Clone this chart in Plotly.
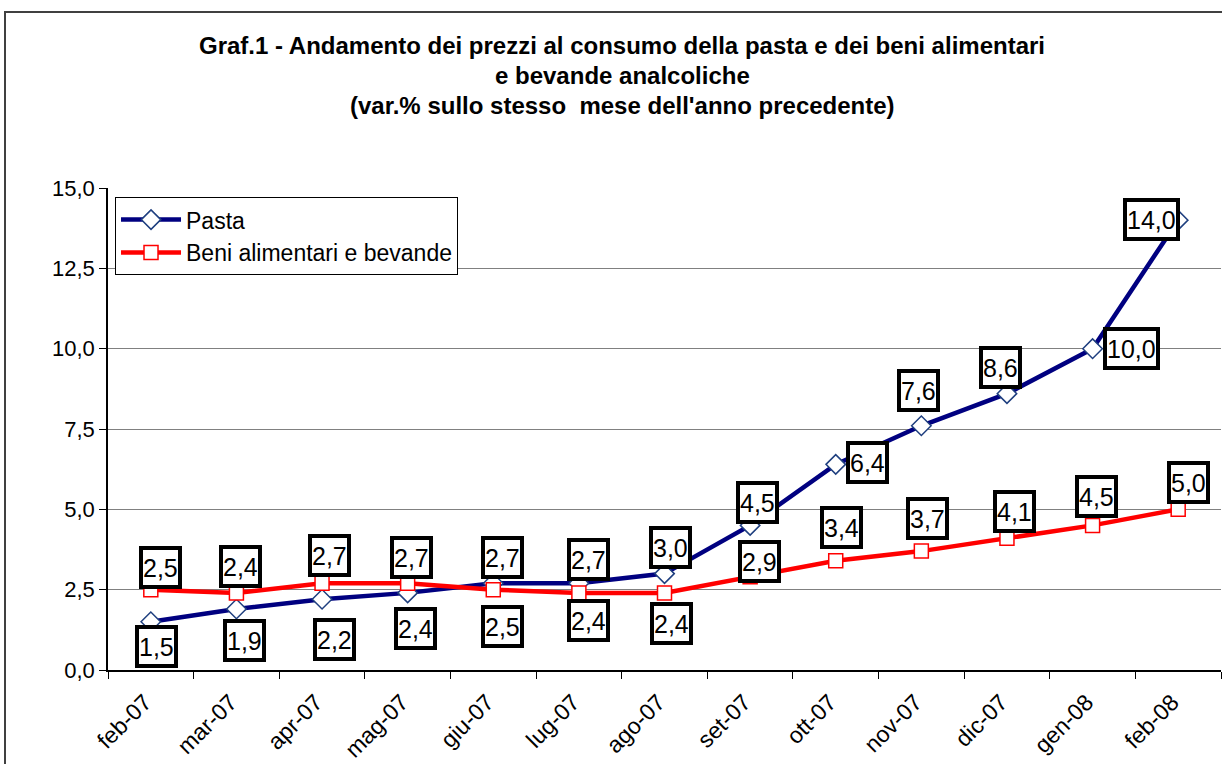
import plotly.graph_objects as go

months = ["feb-07", "mar-07", "apr-07", "mag-07", "giu-07", "lug-07", "ago-07",
          "set-07", "ott-07", "nov-07", "dic-07", "gen-08", "feb-08"]
pasta = [1.5, 1.9, 2.2, 2.4, 2.7, 2.7, 3.0, 4.5, 6.4, 7.6, 8.6, 10.0, 14.0]
beni = [2.5, 2.4, 2.7, 2.7, 2.5, 2.4, 2.4, 2.9, 3.4, 3.7, 4.1, 4.5, 5.0]

# label offsets in pixels (dx, dy with dy positive = downwards), per point
pasta_off = [(6, 25), (8, 32), (12, 40), (8, 36), (9, -26), (10, -24), (6, -26),
             (7, -23), (32, -2), (-3, -35), (-6, -26), (39, 0), (-27, -1)]
beni_off = [(10, -22), (4, -26), (7, -28), (4, -26), (9, 37), (10, 28), (7, 31),
            (9, -15), (6, -33), (6, -33), (8, -27), (4, -29), (10, -27)]

FONT = "Arial, Liberation Sans, sans-serif"

fig = go.Figure()
fig.add_trace(go.Scatter(
    x=months, y=pasta, name="Pasta", mode="lines+markers",
    line=dict(color="#000080", width=4.5),
    marker=dict(symbol="diamond", size=15, color="white",
                line=dict(color="#1F3F7F", width=1.5)),
))
fig.add_trace(go.Scatter(
    x=months, y=beni, name="Beni alimentari e bevande", mode="lines+markers",
    line=dict(color="#FF0000", width=4.5),
    marker=dict(symbol="square", size=14, color="white",
                line=dict(color="#FF0000", width=1.5)),
))

def fmt(v):
    return f"{v:.1f}".replace(".", ",")

anns = []
for series, offs in ((pasta, pasta_off), (beni, beni_off)):
    for m, v, (dx, dy) in zip(months, series, offs):
        anns.append(dict(
            x=m, y=v, xref="x", yref="y", text=fmt(v), showarrow=False,
            xshift=dx, yshift=-dy, height=35, valign="middle",
            font=dict(family=FONT, size=25, color="black"),
            bgcolor="white", bordercolor="black", borderwidth=4, borderpad=0,
        ))

title_lines = ["Graf.1 - Andamento dei prezzi al consumo della pasta e dei beni alimentari",
               "e bevande analcoliche",
               "(var.% sullo stesso  mese dell'anno precedente)"]
for i, t in enumerate(title_lines):
    ypx = 46 + 30 * i
    anns.append(dict(
        x=(622 - 108) / 1113, y=(670 - ypx) / 482, xref="paper", yref="paper",
        text="<b>" + t + "</b>", showarrow=False, xanchor="center", yanchor="middle",
        font=dict(family=FONT, size=24, color="black"),
    ))

fig.update_layout(
    width=1222, height=764,
    margin=dict(l=108, r=1, t=188, b=94),
    paper_bgcolor="white", plot_bgcolor="white",
    separators=",.",
    font=dict(family=FONT, size=22, color="black"),
    showlegend=True,
    legend=dict(
        x=0.0063, y=0.981, xanchor="left", yanchor="top",
        bgcolor="white", bordercolor="black", borderwidth=1,
        font=dict(family=FONT, size=23, color="black"),
        itemwidth=60, tracegroupgap=0,
    ),
    annotations=anns,
    shapes=[dict(type="rect", xref="paper", yref="paper",
                 x0=(5 - 108) / 1113, x1=1.05, y0=-0.3, y1=(670 - 12) / 482,
                 line=dict(color="#404040", width=2), fillcolor="rgba(0,0,0,0)",
                 layer="below")],
)
fig.update_xaxes(
    type="category", range=[-0.5, 12.5], tickson="boundaries",
    ticks="outside", ticklen=7, tickcolor="black",
    showline=True, linecolor="black", linewidth=1.5, showgrid=False,
    tickangle=-45, tickfont=dict(family=FONT, size=23, color="black"),
    ticklabelstandoff=8, ticklabelshift=-6,
)
fig.update_yaxes(
    range=[0, 15], dtick=2.5, tickformat=".1f",
    ticks="outside", ticklen=7, tickcolor="black",
    showline=True, linecolor="black", linewidth=1.5,
    showgrid=True, gridcolor="#808080", gridwidth=1, zeroline=False,
    tickfont=dict(family=FONT, size=22, color="black"),
)

fig.write_html("out.html", config={"displayModeBar": False},
               post_script="document.body.style.margin='0px';")
